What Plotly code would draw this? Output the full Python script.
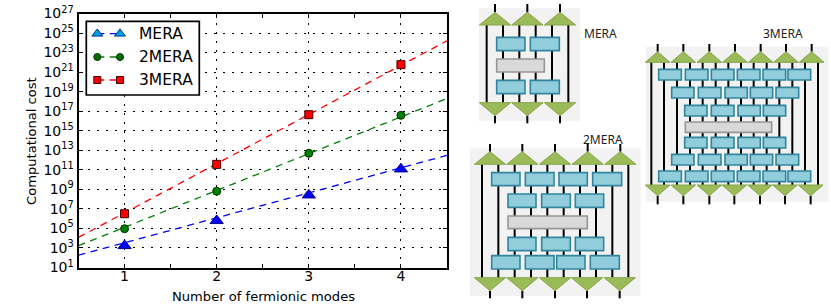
import plotly.graph_objects as go

W, H = 831, 305
DJ = "DejaVu Sans"

# ---------- chart data ----------
modes = [1, 2, 3, 4]
mera_cost = [1.7e3, 6.2e5, 2.6e8, 1.2e11]
mera2_cost = [9.3e4, 6.3e8, 4.9e12, 3.8e16]
mera3_cost = [3.2e6, 3.6e11, 4.4e16, 5.8e21]
fit_x = [0.5, 4.5]
mera_fit = [1.8e2, 3.0e12]
mera2_fit = [1.7e3, 2.0e18]
mera3_fit = [1.2e4, 1.6e24]
y_exponents = list(range(1, 28, 2))
x_minor = [0.5, 1.5, 2.5, 3.5, 4.5]
series_names = ["MERA", "2MERA", "3MERA"]

fig = go.Figure()

# ---------- main plot ----------
styles = [
    (mera_fit, mera_cost, "#0000ff", "triangle-up", 11.5, "#00008b"),
    (mera2_fit, mera2_cost, "#008000", "circle", 8, "#003000"),
    (mera3_fit, mera3_cost, "#ff0000", "square", 8, "#400000"),
]
for name, (fit, cost, col, sym, size, edge) in zip(series_names, styles):
    fig.add_trace(go.Scatter(x=fit_x, y=fit, mode="lines", showlegend=False, hoverinfo="skip",
                             line=dict(color=col, width=1.3, dash="7px,5.5px")))
    fig.add_trace(go.Scatter(x=modes, y=cost, mode="markers", name=name, showlegend=False,
                             marker=dict(color=col, symbol=sym, size=size,
                                         line=dict(color=edge, width=1))))

# ---------- overlay in page pixels (legend box + diagrams) ----------
shapes = []
notes = []


def rect(x0, y0, x1, y1, fill, edge=None, width=0):
    shapes.append(dict(type="rect", xref="x2", yref="y2", x0=x0, y0=y0, x1=x1, y1=y1,
                       fillcolor=fill, layer="below",
                       line=dict(color=edge or fill, width=width)))


def seg(x0, y0, x1, y1, col="#000000", width=2):
    shapes.append(dict(type="line", xref="x2", yref="y2", x0=x0, y0=y0, x1=x1, y1=y1,
                       layer="below", line=dict(color=col, width=width)))


def tri(cx, base, apex, half):
    shapes.append(dict(type="path", xref="x2", yref="y2", layer="below",
                       path=f"M{cx-half},{base} L{cx},{apex} L{cx+half},{base} Z",
                       fillcolor="#9bbb59", line=dict(color="#86a64a", width=1)))


def diagram(ox, oy, panel, top, bot, verticals, blue_rows, gray, half):
    """Geometry is given in 3x-zoom units relative to origin (ox, oy)."""
    X = lambda v: ox + v / 3
    Y = lambda v: oy + v / 3
    rect(X(panel[0]), Y(panel[1]), X(panel[2]), Y(panel[3]), "#f2f2f2")
    t_cent, t_stub, t_apex, t_base = top
    b_cent, b_base, b_apex, b_stub = bot
    for v in verticals:
        seg(X(v), Y(t_base), X(v), Y(b_base))
    for c in t_cent:
        seg(X(c), Y(t_stub), X(c), Y(t_apex))
        tri(X(c), Y(t_base), Y(t_apex), half / 3)
    for c in b_cent:
        seg(X(c), Y(b_apex), X(c), Y(b_stub))
        tri(X(c), Y(b_base), Y(b_apex), half / 3)
    for (y0, y1, spans) in blue_rows:
        for (a, b) in spans:
            rect(X(a), Y(y0), X(b), Y(y1), "#92cddc", "#31859c", 1.6)
    rect(X(gray[0]), Y(gray[1]), X(gray[2]), Y(gray[3]), "#d9d9d9", "#969696", 1.6)


# MERA
row_a = [(80, 165), (181, 268)]
diagram(470, 0, (27, 25, 330, 362),
        ([75, 172, 270], 12, 37, 75),
        ([75, 172, 270], 308, 347, 370),
        [50, 99, 148, 197, 246, 295],
        [(112, 152, row_a), (241, 281, row_a)],
        (80, 177, 223, 216), 47)

# 2MERA
row_b = [(129, 213), (230, 316), (331, 416)]
diagram(465, 130, (15, 55, 527, 498),
        ([75, 172, 270, 368, 466], 42, 65, 103),
        ([75, 172, 270, 366, 464], 443, 482, 505),
        [51, 100, 149, 198, 247, 296, 345, 393, 442, 490],
        [(128, 167, [(80, 165), (181, 267), (282, 367), (383, 470)]),
         (192, 232, row_b),
         (322, 362, row_b),
         (377, 417, [(80, 165), (181, 267), (275, 360), (376, 463)])],
        (129, 258, 367, 296), 47)

# 3MERA
row_1 = [(56, 124), (136, 204), (214, 282), (292, 360), (369, 437), (444, 512)]
row_2 = [(95, 162), (175, 243), (255, 322), (331, 398), (408, 476)]
row_3 = [(134, 201), (214, 282), (294, 361), (370, 437)]
diagram(640, 20, (18, 80, 565, 545),
        ([53, 130, 208, 285, 362, 438, 515], 72, 95, 127),
        ([53, 130, 208, 283, 360, 435, 512], 495, 527, 553),
        [34, 72, 111, 150, 188, 227, 265, 303, 341, 380, 418, 457, 495, 534],
        [(148, 180, row_1), (202, 234, row_2), (256, 288, row_3),
         (352, 384, row_3), (403, 435, row_2), (453, 485, row_1)],
        (136, 306, 395, 337), 37)

for txt, x, y in [("MERA", 600, 33), ("2MERA", 602.5, 139), ("3MERA", 782.5, 33.5)]:
    notes.append(dict(text=txt, xref="x2", yref="y2", x=x, y=y, showarrow=False,
                      font=dict(family="Noto Sans", size=12, color="#222222")))

# axis titles, placed to match the original
notes.append(dict(text="Computational cost", xref="x2", yref="y2", x=31, y=141, textangle=-90,
                  showarrow=False, font=dict(family=DJ, size=13.1, color="black")))
notes.append(dict(text="Number of fermionic modes", xref="x2", yref="y2", x=263, y=296,
                  showarrow=False, font=dict(family=DJ, size=13.1, color="black")))

# legend (two-marker key, as in the original)
rect(86.3, 21.3, 199.3, 95, "white", "black", 1.7)
legend_y = [33.7, 57, 80]
legend_x = [97.3, 120]
legend_styles = [("#0000ff", "#00a0e0", "triangle-up", 9.5, "#00308b"),
                 ("#008000", "#007000", "circle", 7, "#003000"),
                 ("#ff0000", "#ff0000", "square", 7, "#400000")]
for name, ly, (lc, mc, sym, size, edge) in zip(series_names, legend_y, legend_styles):
    fig.add_trace(go.Scatter(x=legend_x, y=[ly, ly], xaxis="x2", yaxis="y2", mode="lines+markers",
                             showlegend=False, hoverinfo="skip",
                             line=dict(color=lc, width=1.3, dash="7px,5.5px"),
                             marker=dict(color=mc, symbol=sym, size=size, line=dict(color=edge, width=1))))
    notes.append(dict(text=name, xref="x2", yref="y2", x=136.5, y=ly, xanchor="left", showarrow=False,
                      font=dict(family=DJ, size=15.5, color="black")))

common = dict(showline=True, linecolor="black", linewidth=2, mirror="ticks", ticks="inside",
              tickcolor="black", ticklen=4, tickwidth=1, zeroline=False, automargin=False,
              gridcolor="black", griddash="2px,7px", gridwidth=1.3,
              tickfont=dict(family=DJ, size=14, color="black"))

fig.update_layout(
    width=W, height=H, margin=dict(l=0, r=0, t=0, b=0),
    paper_bgcolor="white", plot_bgcolor="rgba(0,0,0,0)", showlegend=False,
    shapes=shapes, annotations=notes,
    xaxis=dict(domain=[78.5 / W, 447 / W], range=[0.5, 4.5], tickmode="array",
               tickvals=modes, ticktext=[str(m) for m in modes], showgrid=True,
               ticklabelstandoff=-5,
               minor=dict(tickmode="array", tickvals=x_minor, ticks="inside", ticklen=4,
                          tickcolor="black", tickwidth=1, showgrid=False),
               **common),
    yaxis=dict(domain=[1 - 267.5 / H, 1 - 13.5 / H], type="log", range=[1, 27], tickmode="array",
               tickvals=[10.0 ** e for e in y_exponents],
               ticktext=[f"10<sup>{e}</sup>" for e in y_exponents], showgrid=True,
               **common),
    xaxis2=dict(domain=[0, 1], range=[0, W], visible=False, anchor="y2", fixedrange=True),
    yaxis2=dict(domain=[0, 1], range=[H, 0], visible=False, anchor="x2", fixedrange=True),
)

fig.write_html("out.html", config=dict(displayModeBar=False),
               post_script="document.body.style.margin='0';document.body.style.overflow='hidden';")
